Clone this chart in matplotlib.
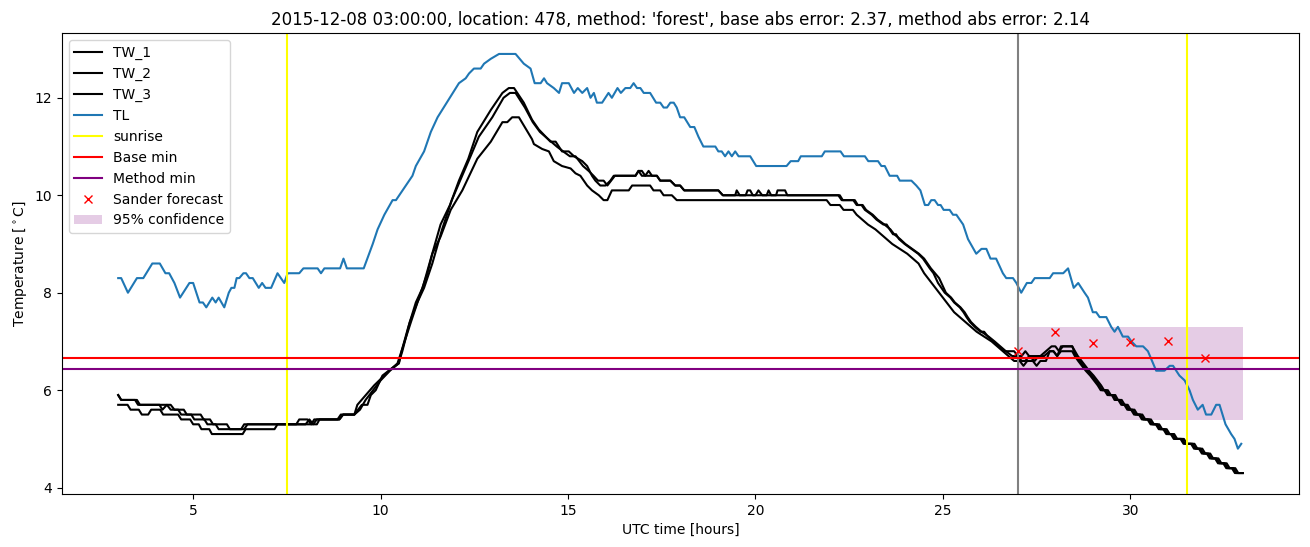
import matplotlib.pyplot as plt

# values (hours UTC, degrees C)
tl_hours = [3.0, 3.08, 3.26, 3.5, 3.67, 3.91, 4.11, 4.26, 4.36, 4.5, 4.65, 4.9, 5.0, 5.17, 5.26, 5.35,
            5.51, 5.6, 5.68, 5.83, 5.95, 6.02, 6.1, 6.16, 6.23, 6.34, 6.41, 6.5, 6.59, 6.75, 6.84, 6.93,
            7.08, 7.25, 7.43, 7.52, 7.83, 7.94, 8.32, 8.41, 8.5, 8.92, 9.01, 9.1, 9.55, 9.79, 9.92, 10.1,
            10.32, 10.41, 10.85, 10.94, 11.16, 11.34, 11.52, 12.09, 12.27, 12.36, 12.49, 12.67, 12.76,
            12.94, 13.16, 13.6, 13.82, 14.0, 14.11, 14.27, 14.36, 14.44, 14.62, 14.76, 14.84, 15.02,
            15.16, 15.26, 15.38, 15.51, 15.6, 15.69, 15.77, 15.91, 16.08, 16.17, 16.32, 16.41, 16.53,
            16.66, 16.75, 16.84, 16.93, 17.02, 17.19, 17.35, 17.46, 17.55, 17.64, 17.73, 17.82, 17.9,
            17.99, 18.1, 18.26, 18.37, 18.48, 18.61, 18.93, 19.01, 19.1, 19.19, 19.28, 19.37, 19.46,
            19.55, 19.86, 20.02, 20.83, 20.94, 21.14, 21.21, 21.77, 21.85, 22.27, 22.36, 22.92, 23.01,
            23.27, 23.36, 23.45, 23.58, 23.78, 23.85, 24.16, 24.29, 24.4, 24.52, 24.61, 24.69, 24.78,
            24.87, 24.94, 25.02, 25.18, 25.27, 25.36, 25.54, 25.67, 25.89, 26.03, 26.16, 26.27, 26.42,
            26.6, 26.69, 26.87, 26.96, 27.09, 27.24, 27.36, 27.45, 27.85, 27.94, 28.21, 28.34, 28.49,
            28.61, 28.78, 28.87, 29.0, 29.09, 29.18, 29.36, 29.49, 29.58, 29.67, 29.8, 29.94, 30.03,
            30.16, 30.34, 30.47, 30.69, 30.91, 31.05, 31.14, 31.31, 31.45, 31.58, 31.67, 31.8, 31.93,
            32.02, 32.16, 32.29, 32.38, 32.54, 32.69, 32.78, 32.87, 32.96]
tl_temp = [8.3, 8.3, 8.0, 8.3, 8.3, 8.6, 8.6, 8.4, 8.4, 8.2, 7.9, 8.2, 8.2, 7.8, 7.8, 7.7,
           7.9, 7.8, 7.9, 7.7, 8.0, 8.1, 8.1, 8.3, 8.3, 8.4, 8.4, 8.3, 8.3, 8.1, 8.2, 8.1,
           8.1, 8.4, 8.2, 8.4, 8.4, 8.5, 8.5, 8.4, 8.5, 8.5, 8.7, 8.5, 8.5, 9.0, 9.3, 9.6,
           9.9, 9.9, 10.4, 10.6, 10.9, 11.3, 11.6, 12.3, 12.4, 12.5, 12.6, 12.6, 12.7,
           12.8, 12.9, 12.9, 12.7, 12.6, 12.3, 12.3, 12.4, 12.3, 12.2, 12.1, 12.3, 12.3,
           12.1, 12.2, 12.1, 12.2, 12.0, 12.1, 11.9, 11.9, 12.1, 12.0, 12.2, 12.1, 12.2,
           12.2, 12.3, 12.2, 12.2, 12.1, 12.1, 11.9, 11.9, 11.8, 11.8, 11.9, 11.9, 11.8,
           11.6, 11.6, 11.4, 11.4, 11.2, 11.0, 11.0, 10.9, 10.9, 10.8, 10.9, 10.8, 10.9,
           10.8, 10.8, 10.6, 10.6, 10.7, 10.7, 10.8, 10.8, 10.9, 10.9, 10.8, 10.8, 10.7,
           10.7, 10.6, 10.6, 10.4, 10.4, 10.3, 10.3, 10.2, 10.1, 9.8, 9.8, 9.9, 9.9,
           9.8, 9.8, 9.7, 9.7, 9.6, 9.6, 9.4, 9.1, 8.8, 8.9, 8.9, 8.7, 8.7,
           8.4, 8.3, 8.3, 8.2, 8.0, 8.2, 8.2, 8.3, 8.3, 8.4, 8.4, 8.5, 8.1,
           8.2, 8.0, 7.9, 7.6, 7.6, 7.5, 7.5, 7.3, 7.2, 7.3, 7.1, 7.1, 7.0,
           6.9, 6.9, 6.8, 6.4, 6.4, 6.5, 6.5, 6.3, 6.2, 6.0, 5.8, 5.6, 5.7,
           5.5, 5.5, 5.7, 5.7, 5.3, 5.1, 5.0, 4.8, 4.9]

tw1_hours = [3.0, 3.08, 3.5, 3.58, 4.4, 4.5, 4.75, 4.83, 5.2, 5.28, 5.45, 5.53, 5.9, 5.98, 6.36, 6.45,
             7.75, 7.83, 8.05, 8.15, 8.23, 8.9, 9.0, 9.3, 9.4, 9.5, 9.65, 9.74, 9.87, 10.05, 10.3,
             10.49, 10.56, 10.74, 10.94, 11.12, 11.34, 11.6, 11.85, 12.09, 12.34, 12.58, 12.94, 13.25,
             13.42, 13.56, 13.82, 14.04, 14.22, 14.53, 14.67, 14.84, 15.02, 15.16, 15.38, 15.51, 15.64,
             15.73, 15.86, 16.0, 16.13, 16.22, 16.8, 16.88, 16.97, 17.06, 17.15, 17.24, 17.37, 17.46,
             17.73, 17.86, 17.99, 18.1, 19.01, 19.13, 19.46, 19.5, 19.58, 19.74, 19.79, 19.86, 19.93,
             20.3, 20.35, 20.42, 20.55, 20.59, 20.79, 20.85, 22.21, 22.3, 22.61, 22.7, 22.83, 22.92,
             23.1, 23.23, 23.41, 23.5, 23.58, 23.67, 23.75, 23.83, 23.98, 24.16, 24.34, 24.47, 24.56,
             24.65, 24.75, 24.87, 25.05, 25.2, 25.3, 25.45, 25.55, 25.63, 25.72, 25.85, 26.0, 26.1,
             26.2, 26.35, 26.5, 26.65, 26.9, 27.0, 27.1, 27.2, 27.3, 27.45, 27.6, 27.75, 27.9, 28.0,
             28.1, 28.2, 28.45, 28.55, 28.65, 28.75, 28.85, 28.97, 29.07, 29.17, 29.25, 29.35, 29.43,
             29.55, 29.62, 29.72, 29.8, 29.88, 29.96, 30.06, 30.14, 30.27, 30.35, 30.5, 30.58, 30.72,
             30.8, 30.92, 31.0, 31.12, 31.2, 31.38, 31.46, 31.66, 31.74, 31.87, 31.95, 32.08, 32.16,
             32.3, 32.38, 32.52, 32.6, 32.75, 32.83, 33.0]
tw1_temp = [5.9, 5.8, 5.8, 5.7, 5.7, 5.6, 5.6, 5.5, 5.5, 5.4, 5.4, 5.3, 5.3, 5.2, 5.2, 5.3,
            5.3, 5.4, 5.4, 5.3, 5.4, 5.4, 5.5, 5.5, 5.6, 5.7, 5.7, 5.9, 6.0, 6.3, 6.45,
            6.55, 6.8, 7.3, 7.8, 8.1, 8.7, 9.4, 9.8, 10.3, 10.75, 11.3, 11.75, 12.1,
            12.2, 12.2, 11.9, 11.55, 11.35, 11.1, 11.1, 10.9, 10.9, 10.8, 10.7, 10.6, 10.4,
            10.3, 10.2, 10.2, 10.3, 10.4, 10.4, 10.5, 10.5, 10.4, 10.5, 10.4, 10.4, 10.3,
            10.3, 10.2, 10.2, 10.1, 10.1, 10.0, 10.0, 10.1, 10.0, 10.0, 10.1, 10.1, 10.0,
            10.0, 10.1, 10.0, 10.0, 10.1, 10.1, 10.0, 10.0, 9.9, 9.9, 9.8, 9.8, 9.7,
            9.6, 9.5, 9.4, 9.4, 9.3, 9.2, 9.2, 9.1, 9.0, 8.9, 8.8, 8.7, 8.6,
            8.5, 8.4, 8.2, 8.0, 7.9, 7.8, 7.7, 7.6, 7.5, 7.4, 7.3, 7.2, 7.2,
            7.1, 7.0, 6.9, 6.8, 6.8, 6.7, 6.7, 6.8, 6.7, 6.7, 6.7, 6.8, 6.9, 6.9,
            6.8, 6.9, 6.9, 6.7, 6.6, 6.5, 6.4, 6.3, 6.2, 6.1, 6.0, 6.0, 5.9,
            5.9, 5.8, 5.8, 5.7, 5.7, 5.6, 5.6, 5.5, 5.5, 5.4, 5.4, 5.3, 5.3,
            5.2, 5.2, 5.1, 5.1, 5.0, 5.0, 4.9, 4.9, 4.8, 4.8, 4.7, 4.7, 4.6,
            4.6, 4.5, 4.5, 4.4, 4.4, 4.3, 4.3]

tw2_hours = [3.0, 3.08, 3.45, 3.53, 4.1, 4.18, 4.3, 4.4, 4.6, 4.68, 4.95, 5.03, 5.3, 5.38, 5.6, 5.68,
             6.28, 6.36, 8.0, 8.1, 8.2, 8.3, 8.9, 9.0, 9.3, 9.45, 9.6, 9.8, 10.0, 10.25, 10.48, 10.58,
             10.78, 10.98, 11.16, 11.38, 11.64, 11.9, 12.12, 12.4, 12.62, 12.98, 13.28, 13.45, 13.6,
             13.85, 14.06, 14.25, 14.55, 14.7, 14.87, 15.05, 15.2, 15.4, 15.55, 15.68, 15.8, 15.95,
             16.05, 16.15, 16.25, 16.8, 16.88, 16.97, 17.06, 17.37, 17.46, 17.73, 17.86, 17.99, 18.1,
             19.01, 19.13, 20.0, 20.08, 20.18, 22.25, 22.33, 22.65, 22.73, 22.86, 22.95, 23.13, 23.26,
             23.44, 23.6, 23.7, 23.86, 24.0, 24.18, 24.36, 24.5, 24.68, 24.9, 25.08, 25.22, 25.32,
             25.47, 25.58, 25.66, 25.75, 25.88, 26.03, 26.22, 26.38, 26.53, 26.68, 26.85, 27.0, 27.1,
             27.2, 27.3, 27.45, 27.55, 27.7, 27.85, 27.95, 28.05, 28.15, 28.45, 28.6, 28.7, 28.8,
             28.9, 29.02, 29.12, 29.22, 29.3, 29.4, 29.48, 29.6, 29.67, 29.77, 29.85, 29.93, 30.01,
             30.11, 30.19, 30.32, 30.4, 30.55, 30.63, 30.77, 30.85, 30.97, 31.05, 31.17, 31.25,
             31.43, 31.51, 31.71, 31.79, 31.92, 32.0, 32.13, 32.21, 32.35, 32.43, 32.57, 32.65,
             32.8, 32.88, 33.0]
tw2_temp = [5.9, 5.8, 5.8, 5.7, 5.7, 5.6, 5.7, 5.6, 5.6, 5.5, 5.5, 5.4, 5.4, 5.3, 5.3, 5.2,
            5.2, 5.3, 5.3, 5.4, 5.3, 5.4, 5.4, 5.5, 5.5, 5.6, 5.8, 6.0, 6.2, 6.4, 6.55, 6.8,
            7.4, 7.8, 8.1, 8.6, 9.3, 9.9, 10.3, 10.8, 11.2, 11.6, 12.0, 12.1, 12.1,
            11.8, 11.5, 11.3, 11.1, 11.0, 10.9, 10.8, 10.8, 10.6, 10.5, 10.4, 10.3, 10.3,
            10.2, 10.3, 10.4, 10.4, 10.5, 10.4, 10.4, 10.4, 10.3, 10.3, 10.2, 10.2, 10.1,
            10.1, 10.0, 10.0, 10.1, 10.0, 10.0, 9.9, 9.9, 9.8, 9.8, 9.7, 9.6, 9.5,
            9.4, 9.3, 9.2, 9.1, 9.0, 8.9, 8.8, 8.7, 8.5, 8.3, 8.0, 7.9, 7.8,
            7.7, 7.6, 7.5, 7.4, 7.3, 7.2, 7.1, 7.0, 6.9, 6.8, 6.7, 6.7, 6.6,
            6.6, 6.7, 6.6, 6.7, 6.7, 6.8, 6.8, 6.7, 6.9, 6.9, 6.7, 6.6, 6.5,
            6.4, 6.3, 6.2, 6.1, 6.0, 6.0, 5.9, 5.9, 5.8, 5.8, 5.7, 5.7, 5.6,
            5.6, 5.5, 5.5, 5.4, 5.4, 5.3, 5.3, 5.2, 5.2, 5.1, 5.1, 5.0,
            5.0, 4.9, 4.9, 4.8, 4.8, 4.7, 4.7, 4.6, 4.6, 4.5, 4.5, 4.4,
            4.4, 4.3, 4.3]

tw3_hours = [3.0, 3.25, 3.33, 3.55, 3.63, 3.8, 3.88, 4.12, 4.2, 4.6, 4.68, 4.92, 5.0, 5.15, 5.22,
             5.43, 5.5, 6.32, 6.4, 7.17, 7.25, 8.3, 8.37, 8.85, 8.94, 9.3, 9.38, 9.83, 10.23, 10.45,
             10.6, 10.81, 11.07, 11.25, 11.38, 11.6, 11.87, 12.18, 12.58, 12.94, 13.25, 13.38, 13.51,
             13.69, 14.04, 14.09, 14.31, 14.49, 14.62, 14.84, 15.07, 15.2, 15.33, 15.51, 15.64, 15.82,
             15.95, 16.05, 16.17, 16.62, 16.71, 17.19, 17.28, 17.46, 17.55, 17.77, 17.9, 21.9, 22.0,
             22.25, 22.35, 22.6, 22.7, 22.85, 23.0, 23.2, 23.35, 23.5, 23.65, 23.85, 24.05, 24.2,
             24.35, 24.5, 24.7, 24.9, 25.1, 25.3, 25.45, 25.6, 25.75, 25.9, 26.1, 26.3, 26.45, 26.6,
             26.75, 26.9, 27.05, 27.15, 27.25, 27.4, 27.5, 27.6, 27.75, 27.85, 27.95, 28.05, 28.15,
             28.45, 28.52, 28.61, 28.71, 28.81, 28.93, 29.03, 29.13, 29.21, 29.31, 29.39, 29.51,
             29.58, 29.68, 29.76, 29.84, 29.92, 30.02, 30.1, 30.23, 30.31, 30.46, 30.54, 30.68,
             30.76, 30.88, 30.96, 31.08, 31.16, 31.34, 31.42, 31.62, 31.7, 31.83, 31.91, 32.04,
             32.12, 32.26, 32.34, 32.48, 32.56, 32.71, 32.79, 33.0]
tw3_temp = [5.7, 5.7, 5.6, 5.6, 5.5, 5.5, 5.6, 5.6, 5.5, 5.5, 5.4, 5.4, 5.3, 5.3, 5.2,
            5.2, 5.1, 5.1, 5.2, 5.2, 5.3, 5.3, 5.4, 5.4, 5.5, 5.5, 5.7, 6.1, 6.4, 6.55,
            6.9, 7.4, 8.0, 8.4, 8.8, 9.15, 9.7, 10.1, 10.75, 11.1, 11.5, 11.5, 11.6,
            11.6, 11.15, 11.05, 10.95, 10.9, 10.7, 10.6, 10.55, 10.45, 10.4, 10.2, 10.1, 10.0,
            9.9, 9.9, 10.1, 10.1, 10.2, 10.2, 10.1, 10.1, 10.0, 10.0, 9.9, 9.9, 9.8,
            9.8, 9.7, 9.7, 9.6, 9.5, 9.4, 9.3, 9.2, 9.1, 9.0, 8.9, 8.8, 8.7,
            8.6, 8.4, 8.2, 8.0, 7.8, 7.6, 7.5, 7.4, 7.3, 7.2, 7.1, 7.0, 6.9, 6.8,
            6.7, 6.6, 6.6, 6.5, 6.6, 6.6, 6.5, 6.6, 6.6, 6.8, 6.8, 6.7, 6.8,
            6.8, 6.7, 6.6, 6.5, 6.4, 6.3, 6.2, 6.1, 6.0, 6.0, 5.9, 5.9,
            5.8, 5.8, 5.7, 5.7, 5.6, 5.6, 5.5, 5.5, 5.4, 5.4, 5.3, 5.3,
            5.2, 5.2, 5.1, 5.1, 5.0, 5.0, 4.9, 4.9, 4.8, 4.8, 4.7, 4.7,
            4.6, 4.6, 4.5, 4.5, 4.4, 4.4, 4.3, 4.3]

sunrise_hours = [7.5, 31.5]
forecast_start = 27.0
forecast_end = 33.0
base_min = 6.67
method_min = 6.44
conf_low = 5.39
conf_high = 7.30
sander_hours = [27, 28, 29, 30, 31, 32]
sander_temp = [6.80, 7.20, 6.96, 6.98, 7.00, 6.67]

title = "2015-12-08 03:00:00, location: 478, method: 'forest', base abs error: 2.37, method abs error: 2.14"


def plot_forecast(outfile: str) -> None:
    fig, ax = plt.subplots(figsize=(13.1, 5.47), dpi=100)
    fig.subplots_adjust(left=0.0473, right=0.9916, bottom=0.0969, top=0.9397)

    ax.plot(tw1_hours, tw1_temp, color='black', label='TW_1')
    ax.plot(tw2_hours, tw2_temp, color='black', label='TW_2')
    ax.plot(tw3_hours, tw3_temp, color='black', label='TW_3')
    ax.plot(tl_hours, tl_temp, color='C0', label='TL')

    for i, h in enumerate(sunrise_hours):
        ax.axvline(h, color='yellow', label='sunrise' if i == 0 else None)
    ax.axvline(forecast_start, color='grey')

    ax.axhline(base_min, color='red', label='Base min')
    ax.axhline(method_min, color='purple', label='Method min')
    ax.plot(sander_hours, sander_temp, 'x', color='red', label='Sander forecast')
    ax.fill_between([forecast_start, forecast_end], conf_low, conf_high,
                    color='purple', alpha=0.2, linewidth=0, label='95% confidence')

    ax.set_title(title)
    ax.set_xlabel('UTC time [hours]')
    ax.set_ylabel(r'Temperature [$^\circ$C]')
    ax.legend(loc='upper left')

    fig.savefig(outfile)


if __name__ == '__main__':
    plot_forecast('out.png')
